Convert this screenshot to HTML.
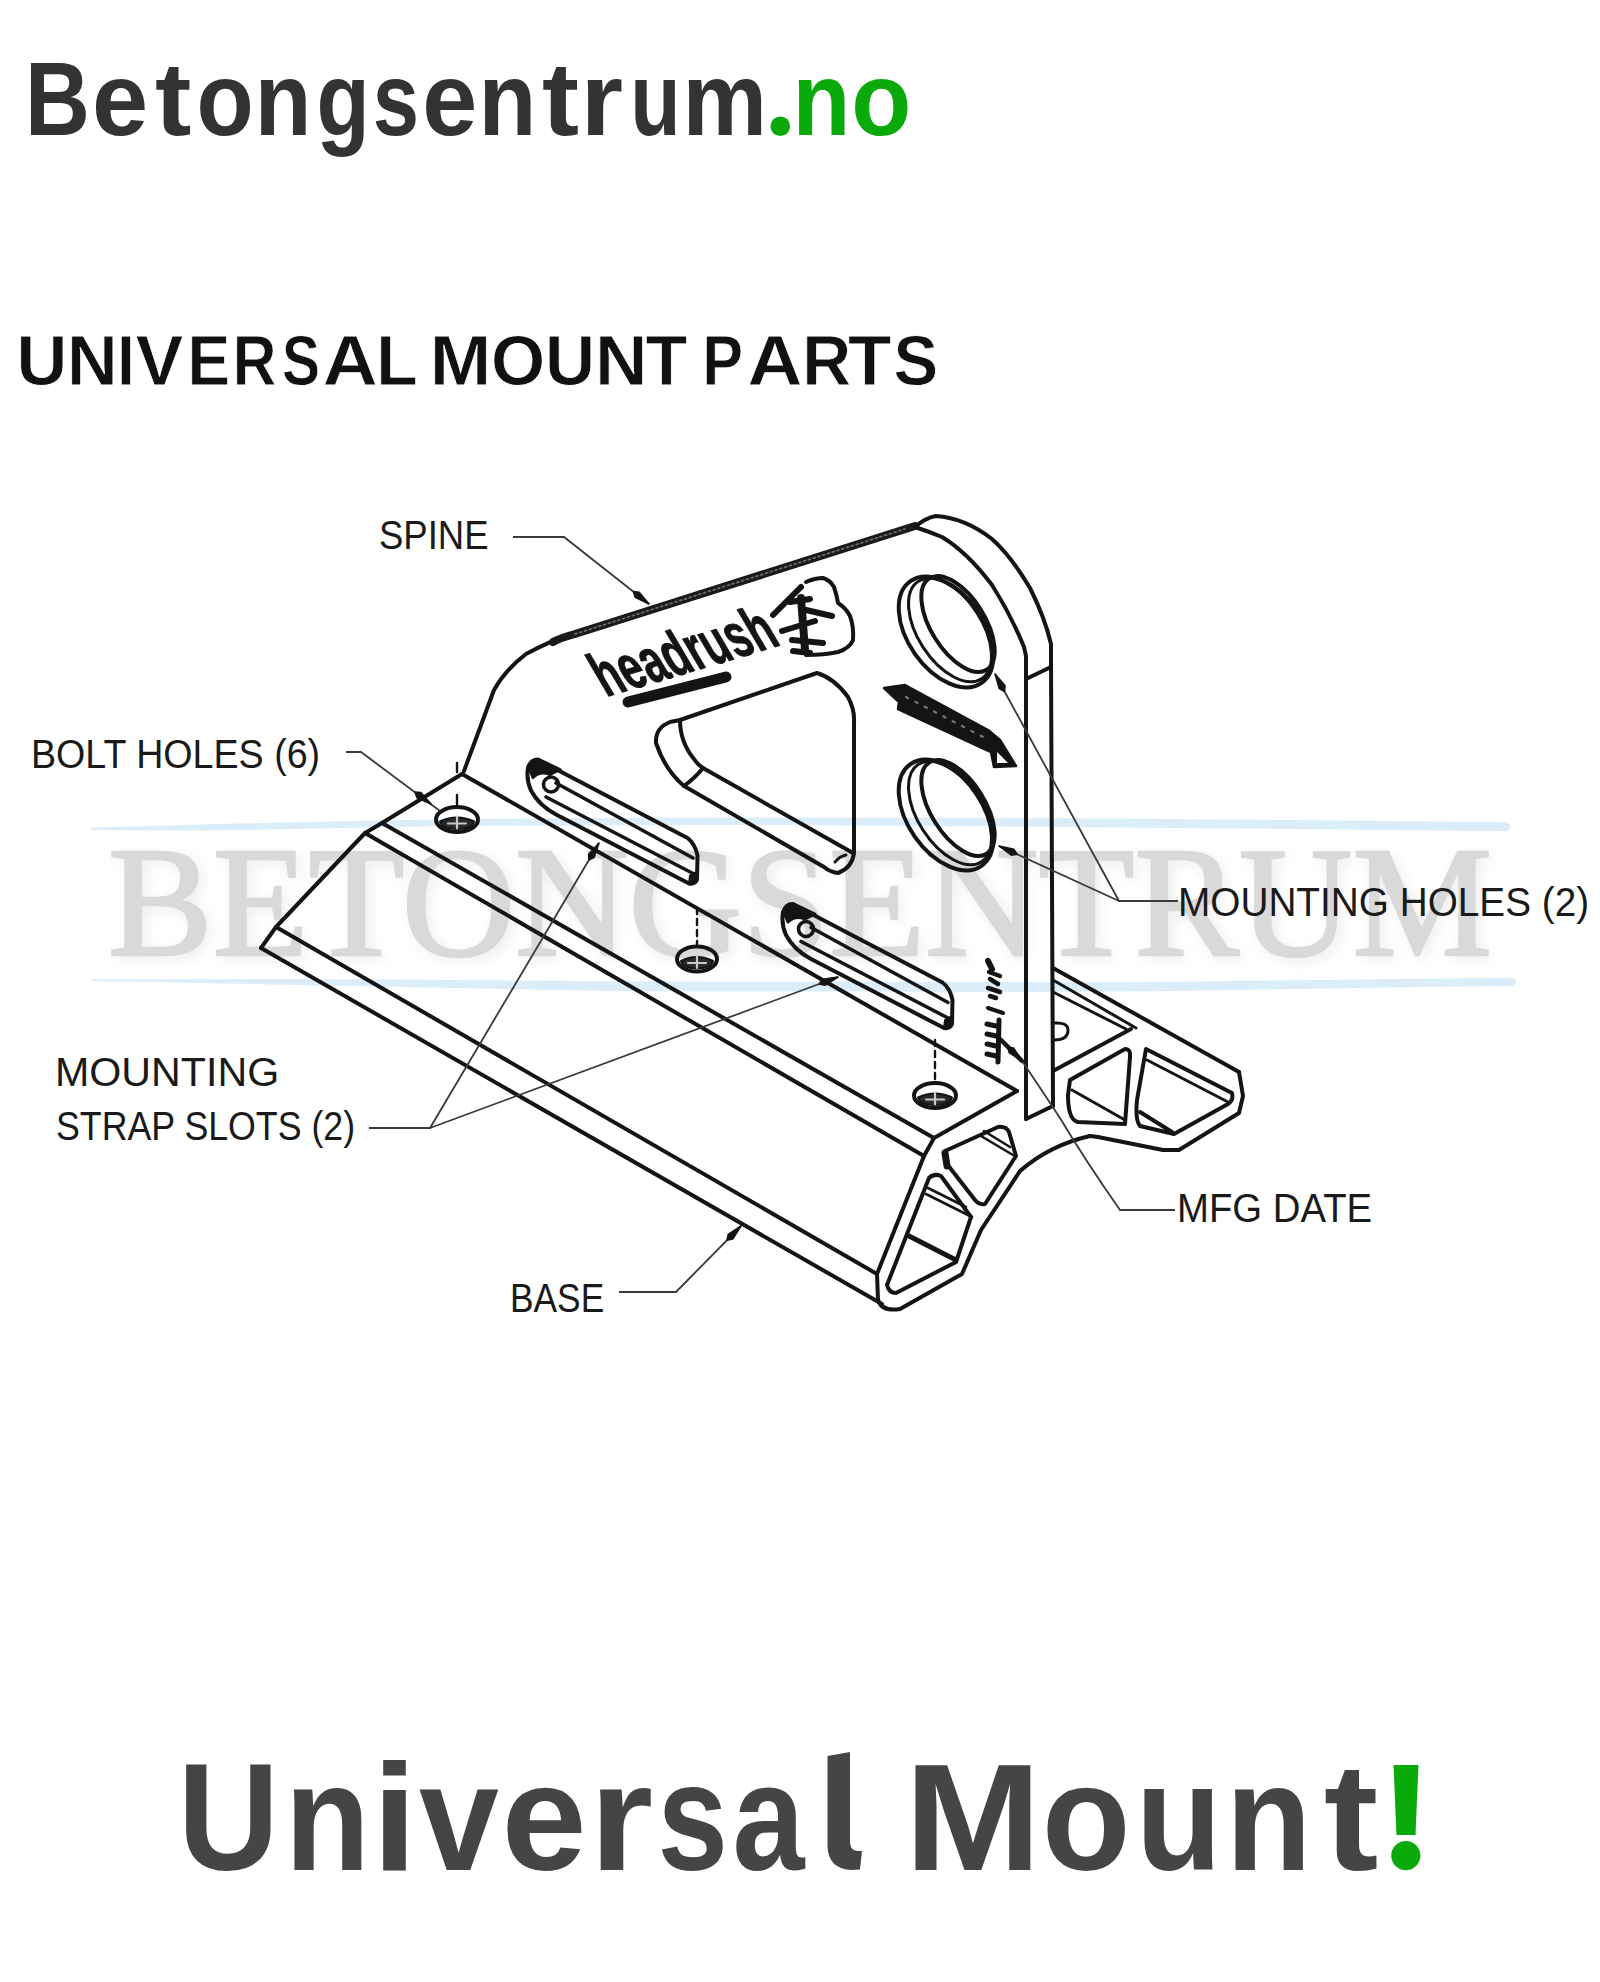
<!DOCTYPE html>
<html><head><meta charset="utf-8">
<style>
html,body{margin:0;padding:0;background:#fff;width:1600px;height:1982px;overflow:hidden}
svg{display:block}
</style></head>
<body>
<svg width="1600" height="1982" viewBox="0 0 1600 1982">
<defs>
<filter id="wmblur" x="-5%" y="-20%" width="110%" height="140%"><feGaussianBlur stdDeviation="7"/></filter>
<linearGradient id="blueline" x1="0" x2="1" y1="0" y2="0"><stop offset="0" stop-color="#e6f2fb"/><stop offset="0.5" stop-color="#d9ecfa"/><stop offset="1" stop-color="#d3e8f8"/></linearGradient>
</defs>
<rect width="1600" height="1982" fill="#fff"/>
<!-- header -->
<g font-family="Liberation Sans" font-weight="bold" font-size="103">
<text transform="translate(24.9 135) scale(0.873 1)" fill="#333">B</text>
<text transform="translate(92.1 135) scale(0.980 1)" fill="#333">e</text>
<text transform="translate(154.9 135) scale(1.062 1)" fill="#333">t</text>
<text transform="translate(196.4 135) scale(0.909 1)" fill="#333">o</text>
<text transform="translate(254.7 135) scale(0.900 1)" fill="#333">n</text>
<text transform="translate(316.6 135) scale(0.846 1)" fill="#333">g</text>
<text transform="translate(372.8 135) scale(0.808 1)" fill="#333">s</text>
<text transform="translate(422.2 135) scale(0.960 1)" fill="#333">e</text>
<text transform="translate(478.6 135) scale(0.920 1)" fill="#333">n</text>
<text transform="translate(542.1 135) scale(1.080 1)" fill="#333">t</text>
<text transform="translate(580.6 135) scale(1.062 1)" fill="#333">r</text>
<text transform="translate(630.2 135) scale(0.800 1)" fill="#333">u</text>
<text transform="translate(682.5 135) scale(0.923 1)" fill="#333">m</text>
<circle cx="780.3" cy="126.3" r="9.8" fill="#0aaa0a"/>
<text transform="translate(792.6 135) scale(0.920 1)" fill="#0aaa0a">n</text>
<text transform="translate(851.2 135) scale(0.955 1)" fill="#0aaa0a">o</text>
</g>
<g font-family="Liberation Sans" font-weight="bold" font-size="71" stroke="#fff" stroke-width="0.8">
<text transform="translate(16.4 384.5) scale(0.991 1)" fill="#111">U</text>
<text transform="translate(67.1 384.5) scale(0.988 1)" fill="#111">N</text>
<text transform="translate(117.0 384.5) scale(0.900 1)" fill="#111">I</text>
<text transform="translate(135.5 384.5) scale(1.011 1)" fill="#111">V</text>
<text transform="translate(187.5 384.5) scale(0.900 1)" fill="#111">E</text>
<text transform="translate(232.7 384.5) scale(0.852 1)" fill="#111">R</text>
<text transform="translate(281.9 384.5) scale(0.802 1)" fill="#111">S</text>
<text transform="translate(322.5 384.5) scale(1.080 1)" fill="#111">A</text>
<text transform="translate(376.2 384.5) scale(0.958 1)" fill="#111">L</text>
<text transform="translate(429.8 384.5) scale(1.041 1)" fill="#111">M</text>
<text transform="translate(491.1 384.5) scale(0.980 1)" fill="#111">O</text>
<text transform="translate(545.1 384.5) scale(0.977 1)" fill="#111">U</text>
<text transform="translate(594.9 384.5) scale(1.024 1)" fill="#111">N</text>
<text transform="translate(645.5 384.5) scale(0.964 1)" fill="#111">T</text>
<text transform="translate(702.2 384.5) scale(0.863 1)" fill="#111">P</text>
<text transform="translate(747.2 384.5) scale(1.080 1)" fill="#111">A</text>
<text transform="translate(802.2 384.5) scale(0.955 1)" fill="#111">R</text>
<text transform="translate(848.0 384.5) scale(1.000 1)" fill="#111">T</text>
<text transform="translate(893.6 384.5) scale(0.942 1)" fill="#111">S</text>
</g>
<!-- watermark -->
<g id="wm">
<text x="112" y="959" font-family="Liberation Serif" font-size="157" fill="#000" stroke="#000" stroke-width="2.6" opacity="0.07" textLength="1384" lengthAdjust="spacingAndGlyphs" filter="url(#wmblur)">BETONGSENTRUM</text>
<text x="108" y="955" font-family="Liberation Serif" font-size="157" fill="#d9d9d9" stroke="#d9d9d9" stroke-width="2.6" textLength="1384" lengthAdjust="spacingAndGlyphs">BETONGSENTRUM</text>
<path d="M91.0 827.44 L115.0 826.92 L139.0 826.33 L162.9 825.66 L186.9 824.92 L210.9 824.24 L234.9 823.62 L258.9 823.07 L282.9 822.56 L306.8 822.05 L330.8 821.54 L354.8 821.03 L378.8 820.52 L402.8 820.06 L426.8 819.66 L450.7 819.31 L474.7 819.02 L498.7 818.78 L522.7 818.59 L546.7 818.45 L570.7 818.32 L594.6 818.18 L618.6 818.05 L642.6 817.91 L666.6 817.78 L690.6 817.65 L714.6 817.54 L738.5 817.47 L762.5 817.43 L786.5 817.43 L810.5 817.45 L834.5 817.50 L858.5 817.58 L882.4 817.66 L906.4 817.74 L930.4 817.83 L954.4 817.91 L978.4 817.99 L1002.4 818.07 L1026.3 818.15 L1050.3 818.23 L1074.3 818.33 L1098.3 818.45 L1122.3 818.59 L1146.3 818.75 L1170.2 818.94 L1194.2 819.15 L1218.2 819.38 L1242.2 819.62 L1266.2 819.86 L1290.2 820.10 L1314.1 820.34 L1338.1 820.58 L1362.1 820.82 L1386.1 821.06 L1410.1 821.30 L1434.1 821.50 L1458.0 821.67 L1482.0 821.80 L1506.0 821.90 A4.5 4.5 0 0 1 1506.0 830.90 L1506.0 830.90 L1482.0 830.80 L1458.0 830.67 L1434.1 830.50 L1410.1 830.30 L1386.1 830.06 L1362.1 829.82 L1338.1 829.58 L1314.1 829.34 L1290.2 829.10 L1266.2 828.86 L1242.2 828.62 L1218.2 828.38 L1194.2 828.15 L1170.2 827.92 L1146.3 827.70 L1122.3 827.49 L1098.3 827.29 L1074.3 827.09 L1050.3 826.91 L1026.3 826.73 L1002.4 826.55 L978.4 826.37 L954.4 826.19 L930.4 826.02 L906.4 825.84 L882.4 825.66 L858.5 825.48 L834.5 825.30 L810.5 825.16 L786.5 825.06 L762.5 824.99 L738.5 824.97 L714.6 824.98 L690.6 825.03 L666.6 825.13 L642.6 825.22 L618.6 825.32 L594.6 825.42 L570.7 825.51 L546.7 825.61 L522.7 825.71 L498.7 825.85 L474.7 826.06 L450.7 826.31 L426.8 826.62 L402.8 826.97 L378.8 827.39 L354.8 827.85 L330.8 828.32 L306.8 828.78 L282.9 829.25 L258.9 829.72 L234.9 830.09 L210.9 830.35 L186.9 830.48 L162.9 830.48 L139.0 830.42 L115.0 830.29 L91.0 830.10 Z" fill="#dcedfa"/>
<path d="M92.0 979.23 L116.1 979.22 L140.1 979.20 L164.2 979.18 L188.3 979.16 L212.3 979.13 L236.4 979.11 L260.5 979.09 L284.5 979.07 L308.6 979.09 L332.7 979.15 L356.7 979.24 L380.8 979.36 L404.9 979.51 L428.9 979.70 L453.0 979.92 L477.1 980.13 L501.2 980.35 L525.2 980.56 L549.3 980.78 L573.4 980.98 L597.4 981.15 L621.5 981.30 L645.6 981.42 L669.6 981.52 L693.7 981.59 L717.8 981.63 L741.8 981.67 L765.9 981.70 L790.0 981.74 L814.0 981.78 L838.1 981.81 L862.2 981.85 L886.2 981.88 L910.3 981.92 L934.4 981.96 L958.4 981.99 L982.5 982.03 L1006.6 982.06 L1030.6 982.10 L1054.7 982.14 L1078.8 982.13 L1102.8 982.08 L1126.9 981.98 L1151.0 981.84 L1175.1 981.64 L1199.1 981.40 L1223.2 981.12 L1247.3 980.83 L1271.3 980.53 L1295.4 980.24 L1319.5 979.95 L1343.5 979.66 L1367.6 979.36 L1391.7 979.07 L1415.7 978.79 L1439.8 978.56 L1463.9 978.36 L1487.9 978.21 L1512.0 978.10 A4.0 4.0 0 0 1 1512.0 986.13 L1512.0 986.13 L1487.9 986.28 L1463.9 986.49 L1439.8 986.75 L1415.7 987.07 L1391.7 987.45 L1367.6 987.85 L1343.5 988.24 L1319.5 988.64 L1295.4 989.03 L1271.3 989.43 L1247.3 989.82 L1223.2 990.22 L1199.1 990.61 L1175.1 990.94 L1151.0 991.21 L1126.9 991.42 L1102.8 991.58 L1078.8 991.67 L1054.7 991.71 L1030.6 991.70 L1006.6 991.69 L982.5 991.68 L958.4 991.66 L934.4 991.65 L910.3 991.64 L886.2 991.63 L862.2 991.62 L838.1 991.60 L814.0 991.59 L790.0 991.58 L765.9 991.57 L741.8 991.56 L717.8 991.54 L693.7 991.51 L669.6 991.41 L645.6 991.24 L621.5 991.01 L597.4 990.71 L573.4 990.34 L549.3 989.91 L525.2 989.44 L501.2 988.97 L477.1 988.50 L453.0 988.02 L428.9 987.55 L404.9 987.08 L380.8 986.60 L356.7 986.12 L332.7 985.64 L308.6 985.15 L284.5 984.67 L260.5 984.18 L236.4 983.69 L212.3 983.20 L188.3 982.71 L164.2 982.22 L140.1 981.80 L116.1 981.45 L92.0 981.17 Z" fill="#dcedfa"/>
</g>
<!-- diagram -->
<g id="diag" fill="none" stroke="#141414" stroke-width="4" stroke-linejoin="round" stroke-linecap="round">
<!-- BASE extrusion long edges -->
<path d="M462 774 L1017 1091"/>
<path d="M382 823 L934 1138"/>
<path d="M365 833 L924 1156"/>
<path d="M276 927 L877 1274"/>
<path d="M261 948 L882 1304"/>
<!-- left end profile -->
<path d="M462 774 L382 823 L365 833 L276 927 L261 948"/>
<!-- right end profile outer -->
<path d="M1017 1091 L934 1138 L924 1156 L877 1274 L878 1300 Q882 1312 900 1309 L962 1274 L981 1230 L1020 1171 Q1050 1145 1090 1136"/>
<path d="M1090 1136 L1098 1137 L1163 1150 L1179 1150 L1239 1113 L1243 1096 L1239 1072"/>
<!-- right end holes -->
<path d="M945 1151 L998 1127 Q1006 1126 1009 1132 L1016 1156 L985 1204 Q979 1205 975 1200 L947 1164 Q943 1157 945 1151 Z"/>
<path d="M945 1153 L947 1166" stroke-width="7"/>
<path d="M981 1136 L1013 1155 M984 1131 L1010 1147" stroke-width="2.6"/>
<path d="M929 1178 Q934 1173 941 1176 L971 1217 L956 1262 L896 1293 Q889 1293 887 1285 L929 1178 Z"/>
<path d="M926 1194 L972 1217 M928 1188 L966 1207" stroke-width="2.6"/>
<path d="M909 1236 L956 1260" stroke-width="5"/>
<!-- SPINE plate -->
<path d="M464 771 L494 690 Q505 670 526 654 Q550 641 570 635" />
<path d="M553 642 Q560 638 575 634 L915 526" stroke-width="8" stroke="#1a1a1a"/>
<path d="M575 634 L905 529" stroke="#6a6a6a" stroke-width="1.8" stroke-dasharray="2 3"/>
<path d="M915 527 Q925 518 936 516 Q965 518 992 539 Q1011 556 1030 588 Q1045 618 1051 644 L1051 661 L1053 1106"/>
<path d="M915 527 Q930 532 942 537 Q967 552 992 585 Q1011 615 1024 647 L1026 656 L1026 1119"/>
<path d="M1026 679 L1051 667"/>
<path d="M1026 1119 L1053 1106"/>
<!-- right extension behind spine -->
<path d="M1053 968 L1239 1072"/>
<path d="M1053 980 L1136 1028" stroke-width="3"/>
<path d="M1053 992 L1126 1029" stroke-width="3"/>
<path d="M1131 1029 L1053 1071"/>
<path d="M1070 1080 L1125 1049 Q1131 1049 1130 1057 L1125 1124 L1078 1122 Q1068 1120 1068 1095 Z"/>
<path d="M1072 1090 L1125 1120" stroke-width="3"/>
<path d="M1146 1049 L1232 1093 Q1234 1100 1228 1104 L1174 1134 L1140 1126 Q1135 1120 1137 1100 Z"/>
<path d="M1147 1060 L1228 1102" stroke-width="3"/>
<path d="M1140 1112 L1172 1132" stroke-width="4"/>
<path d="M1054 1023 Q1068 1022 1068 1030 Q1068 1040 1054 1040" stroke-width="3"/>
<!-- triangle window -->
<path d="M680 720 L817 673 Q834 678 848 697 Q855 710 854 723 L854 853 Q852 868 838 873 Q830 872 824 867 L684 786 Q665 770 656 743 Q655 728 670 722 Z"/>
<path d="M680 720 Q680 742 694 759 Q698 765 703 768 L853 853"/>
<path d="M703 768 Q695 778 684 786"/>
<path d="M835 862 Q840 856 846 855" stroke-width="3"/>
<!-- slot 1 -->
<g transform="translate(-255 -144.5)">
<path d="M792.5 904 L942.5 982.5 Q950 988 952.5 1000 L952 1024 Q950 1029 944 1028 L811 959 Q794 950 786 935 Q781 924 783 912 Q786 904 792.5 904 Z"/>
<path d="M811 927.5 L948 1002.5" stroke-width="3.6"/>
<path d="M801 941.5 L950 1019" stroke-width="3.6"/>
<circle cx="806" cy="929" r="7.5" stroke-width="3.6"/>
<path d="M785 915 Q786 905 794 904 L815 914 L805 919 Q795 915 788 922 Z" fill="#141414" stroke-width="3"/>
<path d="M944 1028 L952 1024 L952 1016 L945 1020 Z" fill="#141414" stroke-width="2"/>
</g>
<!-- slot 2 -->
<g>
<path d="M792.5 904 L942.5 982.5 Q950 988 952.5 1000 L952 1024 Q950 1029 944 1028 L811 959 Q794 950 786 935 Q781 924 783 912 Q786 904 792.5 904 Z"/>
<path d="M811 927.5 L948 1002.5" stroke-width="3.6"/>
<path d="M801 941.5 L950 1019" stroke-width="3.6"/>
<circle cx="806" cy="929" r="7.5" stroke-width="3.6"/>
<path d="M785 915 Q786 905 794 904 L815 914 L805 919 Q795 915 788 922 Z" fill="#141414" stroke-width="3"/>
<path d="M944 1028 L952 1024 L952 1016 L945 1020 Z" fill="#141414" stroke-width="2"/>
</g>
<!-- bolt holes -->
<ellipse cx="457" cy="819.5" rx="21" ry="12.5" stroke-width="4"/>
<path d="M440 821.5 Q457 813.5 474 821.5 Q472 829.0 457 829.0 Q442 829.0 440 821.5 Z" fill="#2a2a2a" stroke-width="2"/>
<path d="M448 823.5 L466 823.5 M457 816.5 L457 828.5" stroke="#c8c8c8" stroke-width="2.2"/>
<ellipse cx="697" cy="959" rx="20" ry="12.5" stroke-width="4"/>
<path d="M681 961 Q697 953 713 961 Q711 968.5 697 968.5 Q683 968.5 681 961 Z" fill="#2a2a2a" stroke-width="2"/>
<path d="M688 963 L706 963 M697 956 L697 968" stroke="#c8c8c8" stroke-width="2.2"/>
<ellipse cx="935" cy="1095.5" rx="21" ry="12.5" stroke-width="4"/>
<path d="M918 1097.5 Q935 1089.5 952 1097.5 Q950 1105.0 935 1105.0 Q920 1105.0 918 1097.5 Z" fill="#2a2a2a" stroke-width="2"/>
<path d="M926 1099.5 L944 1099.5 M935 1092.5 L935 1104.5" stroke="#c8c8c8" stroke-width="2.2"/>
<path d="M457 763 L457 772 M457 795 L457 804" stroke-width="2.4"/>
<path d="M697 908 L697 944" stroke-width="2.4" stroke-dasharray="6 5"/>
<path d="M935 1040 L935 1080" stroke-width="2.4" stroke-dasharray="6 5"/>
<!-- mounting holes -->
<ellipse cx="946" cy="632" rx="62" ry="38" transform="rotate(55 946 632)"/>
<ellipse cx="950" cy="630" rx="58" ry="32" transform="rotate(57 950 630)" stroke-width="3"/>
<ellipse cx="958" cy="624" rx="54" ry="27" transform="rotate(58 958 624)"/>
<ellipse cx="946" cy="815" rx="62" ry="38" transform="rotate(55 946 815)"/>
<ellipse cx="950" cy="813" rx="58" ry="32" transform="rotate(57 950 813)" stroke-width="3"/>
<ellipse cx="958" cy="808" rx="54" ry="27" transform="rotate(58 958 808)"/>
<!-- arrow stamp -->
<path d="M884 688 L905 685 L988 730 L1000 740 L1016 766 L994 767 L991 752 L898 709 L899 702 Z" fill="#141414" stroke-width="2.5"/>
<path d="M997 752 L1008 763 L997 763 Z" fill="#fff" stroke="none"/>
<path d="M906 697 L985 738" stroke="#777" stroke-width="2.2" stroke-dasharray="2.5 8"/>
<!-- MFG stamp -->
<path d="M988 961 L992 969" stroke-width="6"/>
<path d="M989 972 L1000 976 M990 979 L998 984 M988 988 L1000 992 M990 996 L996 998" stroke-width="4.5"/>
<path d="M988 1008 L1003 1013" stroke-width="4"/>
<path d="M999 1020 L998 1062" stroke-width="5"/>
<path d="M987 1024 L996 1026 M987 1034 L996 1036 M987 1044 L996 1046 M987 1054 L996 1056" stroke-width="5"/>
<path d="M1001 1040 L1022 1061" stroke-width="4.5"/>
<!-- headrush logo -->
<g transform="translate(606 697) rotate(-16.5) skewX(14)"><text x="0" y="0" font-family="Liberation Sans" font-weight="bold" font-size="64" fill="#141414" stroke="#141414" stroke-width="1" textLength="184" lengthAdjust="spacingAndGlyphs">headrush</text></g>
<path d="M628 702 L726 677" stroke-width="11"/>
<path d="M806 582 Q815 578 823 578 Q830 580 834 587 Q837 596 838 603 Q846 608 850 616 Q854 627 853 640 Q850 648 838 652 Q825 655 806 655" stroke-width="4"/>
<path d="M773 615 L801 587 M790 602 L810 599 M782 631 L815 621 M806 610 L832 616 M792 640 L823 643 M793 651 L810 653" stroke-width="6"/>
<path d="M801 598 L805 650" stroke-width="8"/>
</g>
<g id="leaders">
<g fill="none" stroke="#3a3a3a" stroke-width="1.8">
<path d="M513 537 L564 537 L649 604"/>
<path d="M346 752 L361 752 L440 811"/>
<path d="M1178 901 L1119 901 L995 674"/>
<path d="M1119 901 L999 846"/>
<path d="M369 1128 L430 1128 L599 843"/>
<path d="M430 1128 L838 977"/>
<path d="M1175 1210 L1120 1210 Q1085 1160 1060 1118 Q1035 1080 1022 1061"/>
<path d="M619 1292 L676 1292 L741 1226"/>
</g>
<g fill="#141414" stroke="#141414" stroke-width="1.5" stroke-linejoin="round">
<path d="M649.0 604.0 L635.2 597.3 L633.3 591.6 L639.2 592.2 Z"/>
<path d="M431.0 804.0 L417.0 797.7 L414.9 792.1 L420.9 792.4 Z"/>
<path d="M995.0 674.0 L1005.0 685.6 L1004.6 691.6 L999.3 688.7 Z"/>
<path d="M999.0 846.0 L1014.0 849.3 L1017.2 854.3 L1011.3 855.2 Z"/>
<path d="M599.0 843.0 L594.1 857.6 L588.8 860.2 L588.6 854.2 Z"/>
<path d="M838.0 977.0 L825.1 985.3 L819.2 983.9 L822.8 979.2 Z"/>
<path d="M741.0 1226.0 L732.8 1239.0 L727.0 1240.2 L728.2 1234.4 Z"/>
<path d="M1022.0 1061.0 L1009.1 1052.7 L1007.9 1046.9 L1013.7 1048.1 Z"/>
</g>
</g>
<!-- labels -->
<g font-family="Liberation Sans" font-size="40" fill="#1a1a1a">
<text x="379" y="549" textLength="109.6" lengthAdjust="spacingAndGlyphs">SPINE</text>
<text x="31" y="768" textLength="289.1" lengthAdjust="spacingAndGlyphs">BOLT HOLES (6)</text>
<text x="1178" y="916" textLength="411.1" lengthAdjust="spacingAndGlyphs">MOUNTING HOLES (2)</text>
<text x="55" y="1086" textLength="224.2" lengthAdjust="spacingAndGlyphs">MOUNTING</text>
<text x="56" y="1140" textLength="299.1" lengthAdjust="spacingAndGlyphs">STRAP SLOTS (2)</text>
<text x="1177" y="1222" textLength="195.1" lengthAdjust="spacingAndGlyphs">MFG DATE</text>
<text x="510" y="1312" textLength="94.2" lengthAdjust="spacingAndGlyphs">BASE</text>
</g>
<!-- footer -->
<g font-family="Liberation Sans" font-weight="bold" font-size="152">
<text transform="translate(177.7 1870) scale(0.923 1)" fill="#454545">U</text>
<text transform="translate(284.8 1870) scale(0.918 1)" fill="#454545">n</text>
<text transform="translate(371.8 1870) scale(1.080 1)" fill="#454545">i</text>
<text transform="translate(419.1 1870) scale(0.945 1)" fill="#454545">v</text>
<text transform="translate(501.5 1870) scale(1.007 1)" fill="#454545">e</text>
<text transform="translate(589.3 1870) scale(1.080 1)" fill="#454545">r</text>
<text transform="translate(657.5 1870) scale(0.833 1)" fill="#454545">s</text>
<text transform="translate(732.6 1870) scale(0.852 1)" fill="#454545">a</text>
<path d="M827.5 1756 L850 1752 L850 1843 Q851 1851 858 1851 L862 1851 L860 1869.5 L852 1870 Q828 1869 827.5 1846 Z" fill="#454545"/>
<text transform="translate(904.5 1870) scale(1.080 1)" fill="#454545">M</text>
<text transform="translate(1041.8 1870) scale(0.957 1)" fill="#454545">o</text>
<text transform="translate(1135.7 1870) scale(0.926 1)" fill="#454545">u</text>
<text transform="translate(1225.8 1870) scale(0.925 1)" fill="#454545">n</text>
<text transform="translate(1323.7 1870) scale(1.080 1)" fill="#454545">t</text>
<path d="M1393.5 1765 L1418.5 1765 L1415.5 1835 L1396.5 1835 Z" fill="#0aaa0a"/><circle cx="1405.8" cy="1855.6" r="14.6" fill="#0aaa0a"/>
</g>
</svg>
</body></html>
